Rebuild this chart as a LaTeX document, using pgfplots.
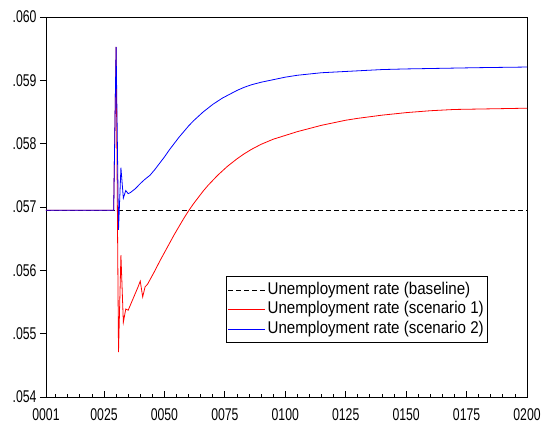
\documentclass[border=0pt]{standalone}
\usepackage{fontspec}
\setmainfont{Liberation Sans}
\newfontfamily\tickfamily{Liberation Sans}[FakeStretch=0.72]
\newfontfamily\legfamily{Liberation Sans}[FakeStretch=0.89]
\usepackage{pgfplots}
\pgfplotsset{compat=1.18}
\newcommand\tfont{\tickfamily\fontsize{17bp}{20bp}\selectfont}
\newcommand\lfont{\legfamily\fontsize{17bp}{20bp}\selectfont}
\begin{document}
\begin{tikzpicture}
\begin{axis}[
    scale only axis, width=481bp, height=380bp,
    xmin=1, xmax=200, ymin=0.054, ymax=0.060,
    scaled y ticks=false,
    xtick={1,25,50,75,100,125,150,175,200},
    xticklabels={0001,0025,0050,0075,0100,0125,0150,0175,0200},
    minor xtick={5,10,...,195},
    ytick={0.054,0.055,0.056,0.057,0.058,0.059,0.060},
    yticklabels={.054,.055,.056,.057,.058,.059,.060},
    tick pos=left, xtick align=inside, ytick align=outside,
    major tick length=6bp, minor tick length=3bp,
    tick style={black, line width=0.8bp},
    axis line style={line width=0.8bp},
    tick label style={font=\tfont},
    xticklabel style={yshift=-8bp},
    legend cell align=left,
    legend image code/.code={\draw[#1] (0bp,0bp) -- (37bp,0bp);},
    legend style={at={(rel axis cs:0.919,0.142)}, anchor=south east,
        draw=black, line width=0.6bp, font=\lfont,
        inner xsep=2bp, inner ysep=5bp, row sep=2bp,
        nodes={inner ysep=1bp, inner xsep=2bp, text height=12bp, text depth=3.5bp}},
]
% baseline
\addplot[black, line width=0.8bp, dash pattern=on 5bp off 3bp] coordinates {
    (1,0.05695) (200,0.05695)
};
\addlegendentry{Unemployment rate (baseline)}
% scenario 1
\addplot[red, solid, line width=0.8bp] coordinates {
    (1,0.05695) (29,0.05695) (30,0.05953) (31,0.05471) (32,0.05624) (33,0.05518)
    (34,0.05539) (35,0.05537) (36,0.05546) (37,0.05555) (38,0.05564) (39,0.05573)
    (40,0.05583) (41,0.05558) (42,0.05574) (43,0.05578) (44,0.05585) (46,0.05599)
    (48,0.05614) (50,0.05628) (52,0.05642) (54,0.05656) (56,0.05669) (58,0.05682)
    (60,0.05694) (62,0.05705) (64,0.05715) (66,0.05725) (68,0.05734) (70,0.05742)
    (72,0.05750) (74,0.05757) (76,0.05764) (78,0.05770) (80,0.05776) (83,0.05784)
    (86,0.05791) (90,0.05799) (95,0.05807) (100,0.05813) (105,0.05819)
    (110,0.05824) (115,0.05829) (120,0.05833) (125,0.05837) (130,0.05840)
    (140,0.05845) (150,0.05849) (160,0.05852) (170,0.05854) (185,0.05855)
    (200,0.05856)
};
\addlegendentry{Unemployment rate (scenario 1)}
% scenario 2
\addplot[blue, solid, line width=0.8bp] coordinates {
    (1,0.05695) (29,0.05695) (30,0.05953) (31,0.05664) (32,0.05762) (33,0.05714)
    (34,0.05726) (35,0.05721) (36,0.05723) (38,0.05729) (40,0.05737) (42,0.05744)
    (44,0.05750) (46,0.05759) (48,0.05769) (50,0.05779) (52,0.05790) (54,0.05800)
    (56,0.05810) (58,0.05819) (60,0.05828) (62,0.05836) (64,0.05843) (66,0.05850)
    (68,0.05856) (70,0.05862) (72,0.05867) (74,0.05872) (76,0.05876) (78,0.05880)
    (80,0.05884) (83,0.05889) (86,0.05893) (90,0.05897) (95,0.05901)
    (100,0.05905) (105,0.05908) (110,0.05910) (115,0.05912) (120,0.05913)
    (130,0.05915) (140,0.05917) (150,0.05918) (165,0.05919) (180,0.05920)
    (200,0.05921)
};
\addlegendentry{Unemployment rate (scenario 2)}
\coordinate (bbsw) at (rel axis cs:-0.09563,-0.08158);
\coordinate (bbne) at (rel axis cs:1.03742,1.04474);
\end{axis}
\pgfresetboundingbox
\path[use as bounding box] (bbsw) rectangle (bbne);
\end{tikzpicture}
\end{document}
